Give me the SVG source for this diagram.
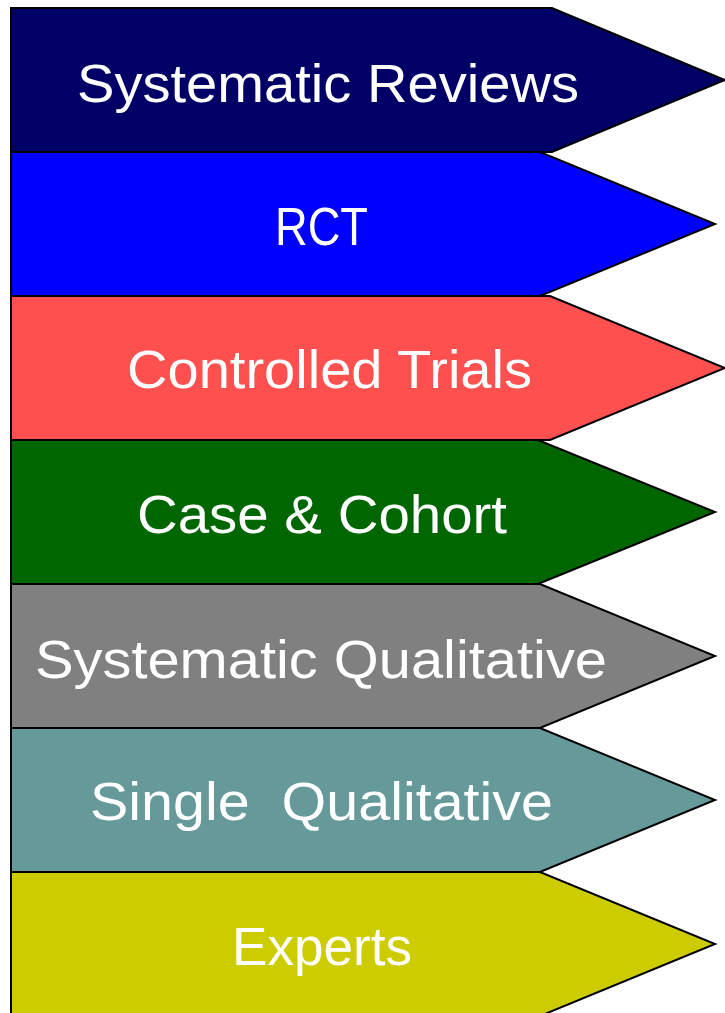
<svg xmlns="http://www.w3.org/2000/svg" width="725" height="1013" viewBox="0 0 725 1013">
<style>
.a{stroke:#000;stroke-width:2;stroke-linejoin:miter}
.t{font-family:"Liberation Sans",Arial,sans-serif;font-size:54px;fill:#fff;lengthAdjust:spacingAndGlyphs}
</style>
<rect width="725" height="1013" fill="#fff"/>
<g id="n7"><polygon class="a" fill="#CCCC00" points="11,872 540,872 715,944 540,1016 11,1016"/><text class="t" x="232" y="965" textLength="180" lengthAdjust="spacingAndGlyphs">Experts</text></g>
<g id="n6"><polygon class="a" fill="#669999" points="11,728 540,728 715,800 540,872 11,872"/><text class="t" x="90" y="820" textLength="463" lengthAdjust="spacingAndGlyphs" xml:space="preserve">Single  Qualitative</text></g>
<g id="n5"><polygon class="a" fill="#808080" points="11,584 540,584 715,656 540,728 11,728"/><text class="t" x="35" y="678" textLength="572" lengthAdjust="spacingAndGlyphs">Systematic Qualitative</text></g>
<g id="n4"><polygon class="a" fill="#006600" points="11,440 538,440 715,512 538,584 11,584"/><text class="t" x="137" y="533" textLength="370" lengthAdjust="spacingAndGlyphs">Case &amp; Cohort</text></g>
<g id="n3"><polygon class="a" fill="#FF5050" points="11,296 550,296 725,368 550,440 11,440"/><text class="t" x="127" y="388" textLength="405" lengthAdjust="spacingAndGlyphs">Controlled Trials</text></g>
<g id="n2"><polygon class="a" fill="#0000FF" points="11,152 540,152 715,224 540,296 11,296"/><text class="t" x="275" y="245" textLength="93" lengthAdjust="spacingAndGlyphs">RCT</text></g>
<g id="n1"><polygon class="a" fill="#000066" points="11,8 552,8 725,80 552,152 11,152"/><text class="t" x="77" y="102" textLength="502" lengthAdjust="spacingAndGlyphs">Systematic Reviews</text></g>
<g id="connectors"/>
</svg>
